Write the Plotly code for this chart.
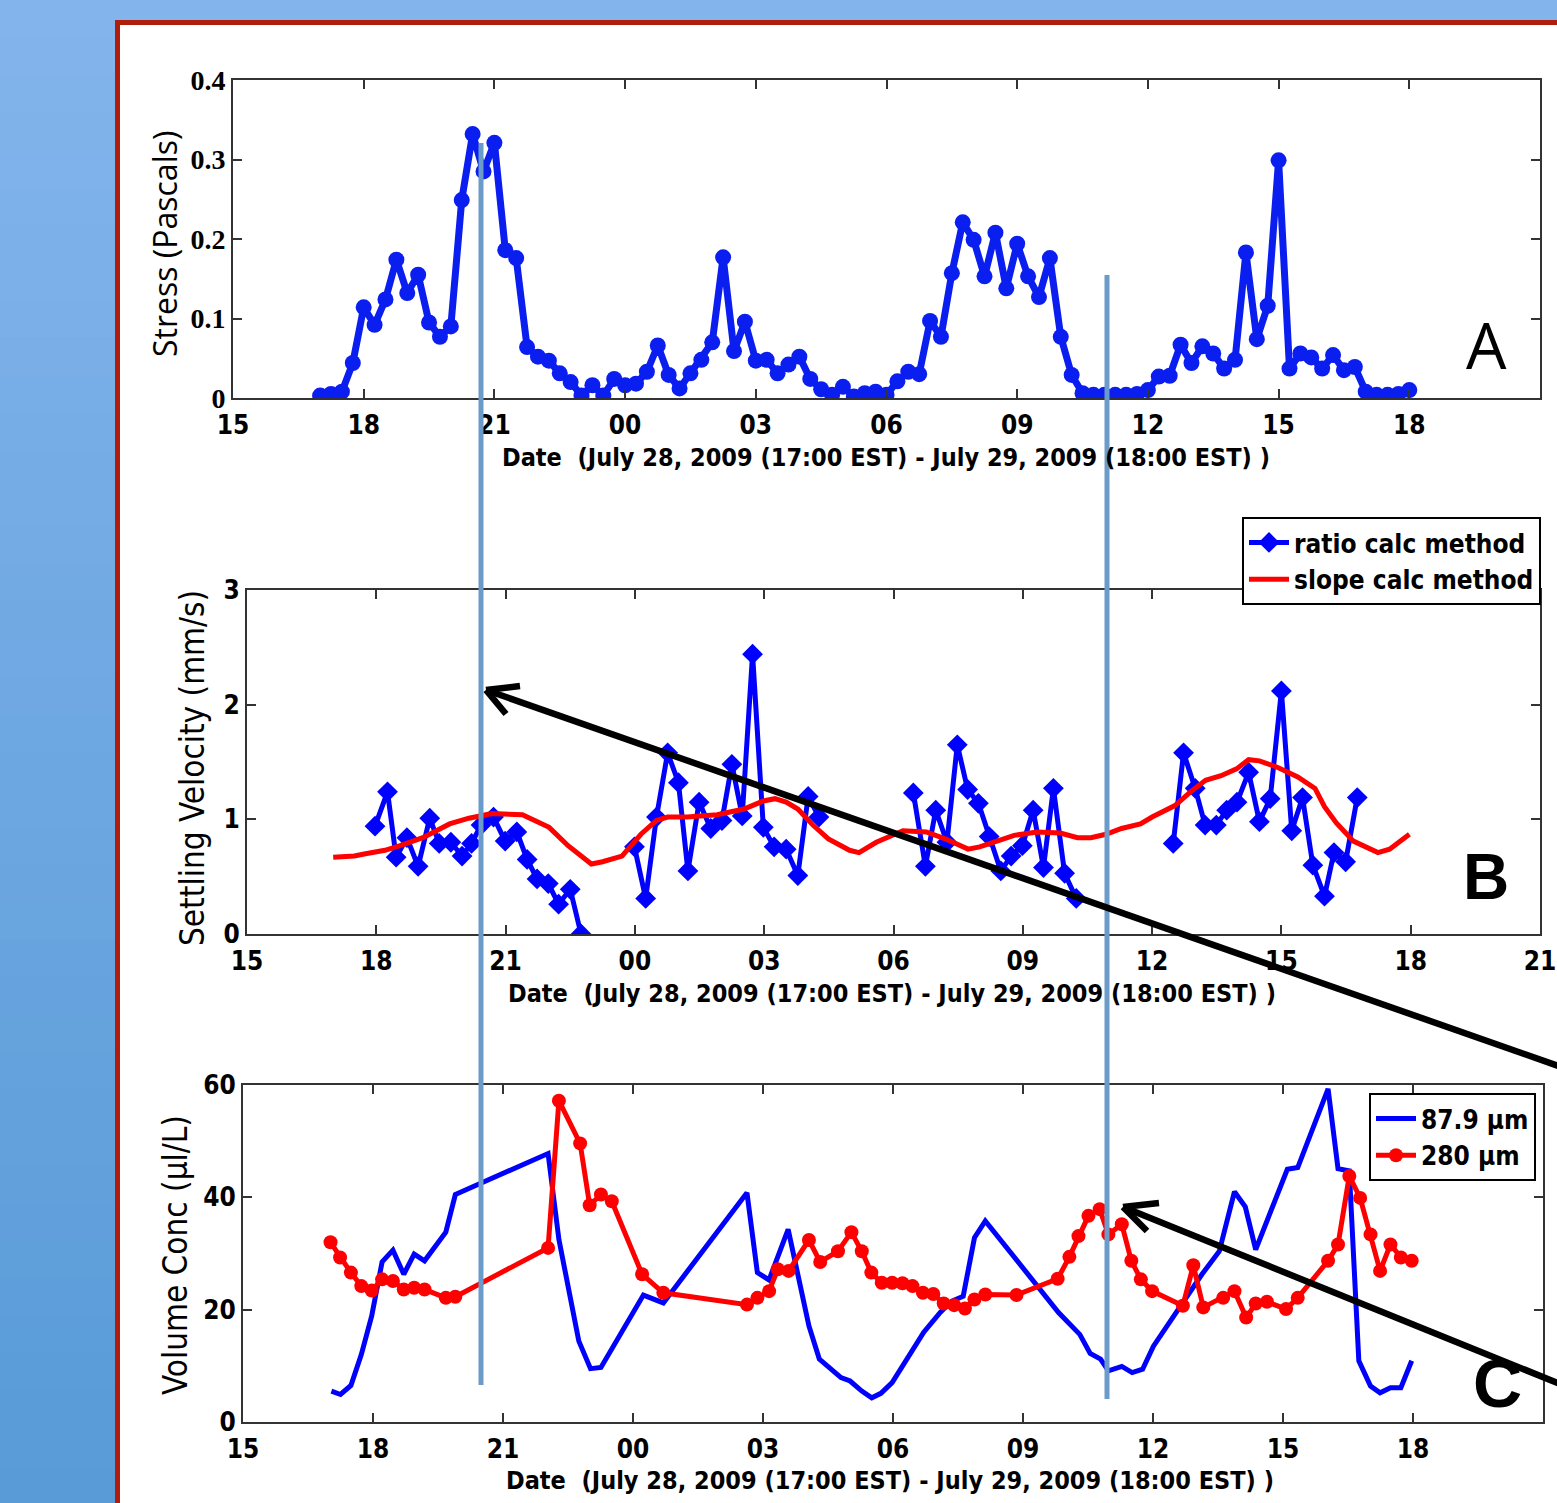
import plotly.graph_objects as go

W, H = 1557, 1503

# ---------------- Panel A: bed stress ----------------
stress_t = [17.00, 17.25, 17.50, 17.75, 18.00, 18.25, 18.50, 18.75, 19.00, 19.25, 19.50, 19.75, 20.00, 20.25,
            20.50, 20.75, 21.00, 21.25, 21.50, 21.75, 22.00, 22.25, 22.50, 22.75, 23.00, 23.25, 23.50, 23.75,
            24.00, 24.25, 24.50, 24.75, 25.00, 25.25, 25.50, 25.75, 26.00, 26.25, 26.50, 26.75, 27.00, 27.25,
            27.50, 27.75, 28.00, 28.25, 28.50, 28.75, 29.00, 29.25, 29.50, 29.75, 30.00, 30.25, 30.50, 30.75,
            31.00, 31.25, 31.50, 31.75, 32.00, 32.25, 32.50, 32.75, 33.00, 33.25, 33.50, 33.75, 34.00, 34.25,
            34.50, 34.75, 35.00, 35.25, 35.50, 35.75, 36.00, 36.25, 36.50, 36.75, 37.00, 37.25, 37.50, 37.75,
            38.00, 38.25, 38.50, 38.75, 39.00, 39.25, 39.50, 39.75, 40.00, 40.25, 40.50, 40.75, 41.00, 41.25,
            41.50, 41.75, 42.00]
stress_v = [0.003, 0.005, 0.008, 0.044, 0.114, 0.092, 0.124, 0.174, 0.132, 0.155, 0.095, 0.077, 0.090, 0.249,
            0.332, 0.285, 0.321, 0.186, 0.176, 0.064, 0.052, 0.047, 0.031, 0.020, 0.003, 0.016, 0.003, 0.024,
            0.016, 0.018, 0.033, 0.066, 0.029, 0.012, 0.031, 0.048, 0.070, 0.177, 0.059, 0.096, 0.047, 0.048,
            0.031, 0.042, 0.052, 0.024, 0.011, 0.004, 0.014, 0.002, 0.006, 0.008, 0.004, 0.021, 0.033, 0.030,
            0.097, 0.077, 0.157, 0.221, 0.199, 0.153, 0.208, 0.138, 0.194, 0.153, 0.127, 0.176, 0.077, 0.029,
            0.006, 0.004, 0.004, 0.004, 0.004, 0.005, 0.010, 0.027, 0.028, 0.067, 0.044, 0.065, 0.056, 0.037,
            0.048, 0.183, 0.074, 0.116, 0.299, 0.037, 0.056, 0.051, 0.037, 0.054, 0.035, 0.039, 0.008, 0.004,
            0.004, 0.005, 0.010]

# ---------------- Panel B: settling velocity ----------------
ratio_t = [17.97, 18.26, 18.46, 18.71, 18.97, 19.24, 19.46, 19.73, 19.99, 20.21, 20.43, 20.72, 20.99, 21.26,
           21.50, 21.73, 21.99, 22.23, 22.50, 22.75, None,
           23.99, 24.25, 24.50, 24.76, 25.01, 25.23, 25.49, 25.76, 26.02, 26.25, 26.49, 26.73, 26.98, 27.23,
           27.51, 27.78, 28.02, 28.27, None,
           30.46, 30.74, 30.98, 31.24, 31.48, 31.72, 31.97, 32.22, 32.49, 32.73, 32.99, 33.24, 33.48, 33.71,
           33.97, 34.24, None,
           36.49, 36.73, 37.00, 37.23, 37.49, 37.73, 37.97, 38.24, 38.49, 38.74, 39.00, 39.24, 39.49, 39.73,
           40.00, 40.22, 40.49, 40.76]
ratio_v = [0.94, 1.24, 0.67, 0.84, 0.59, 1.01, 0.79, 0.80, 0.68, 0.79, 0.95, 1.02, 0.81, 0.89,
           0.65, 0.48, 0.44, 0.26, 0.39, 0.00, None,
           0.76, 0.31, 1.02, 1.58, 1.32, 0.55, 1.15, 0.92, 0.99, 1.48, 1.03, 2.44, 0.93, 0.76,
           0.74, 0.51, 1.20, 1.02, None,
           1.23, 0.59, 1.08, 0.80, 1.65, 1.26, 1.14, 0.85, 0.55, 0.68, 0.77, 1.08, 0.58, 1.27,
           0.53, 0.31, None,
           0.79, 1.58, 1.27, 0.95, 0.95, 1.08, 1.15, 1.41, 0.98, 1.18, 2.12, 0.90, 1.19, 0.60,
           0.33, 0.71, 0.63, 1.19]

slope_t = [17.00, 17.49, 17.75, 18.20, 18.55, 19.08, 19.70, 20.15, 20.68, 21.39, 22.01, 22.45, 22.99, 23.25,
           23.70, 24.14, 24.50, 24.76, 25.21, 25.91, 26.53, 26.98, 27.25, 27.51, 27.78, 28.13, 28.49, 28.74,
           28.98, 29.20, 29.60, 30.22, 30.76, 31.20, 31.73, 32.00, 32.36, 32.80, 33.33, 33.87, 34.27, 34.58,
           34.93, 35.29, 35.73, 36.00, 36.53, 36.89, 37.24, 37.60, 37.96, 38.24, 38.49, 38.93, 39.38, 39.78,
           40.00, 40.27, 40.67, 40.98, 41.24, 41.51, 41.73, 41.97]
slope_v = [0.67, 0.68, 0.70, 0.73, 0.77, 0.84, 0.96, 1.01, 1.05, 1.04, 0.93, 0.77, 0.61, 0.63,
           0.68, 0.87, 0.99, 1.02, 1.02, 1.04, 1.09, 1.16, 1.18, 1.15, 1.09, 0.95, 0.83, 0.78,
           0.73, 0.71, 0.80, 0.90, 0.89, 0.83, 0.74, 0.76, 0.81, 0.86, 0.89, 0.88, 0.84, 0.84,
           0.87, 0.92, 0.96, 1.02, 1.12, 1.24, 1.34, 1.38, 1.44, 1.52, 1.51, 1.45, 1.37, 1.27,
           1.11, 0.97, 0.81, 0.76, 0.71, 0.74, 0.80, 0.87]

# ---------------- Panel C: volume concentration ----------------
c88_t = [17.04, 17.25, 17.49, 17.73, 17.97, 18.21, 18.46, 18.71, 18.95, 19.19, 19.68, 19.90, 22.04, 22.29,
         22.75, 23.02, 23.26, 24.24, 24.70, 26.63, 26.87, 27.14, 27.58, 28.06, 28.30, 28.80, 29.01, 29.28,
         29.51, 29.72, 29.98, 30.38, 30.71, 31.09, 31.35, 31.62, 31.88, 32.13, 33.82, 34.31, 34.55, 34.79,
         34.97, 35.28, 35.52, 35.76, 36.01, 37.13, 37.53, 37.88, 38.13, 38.37, 39.10, 39.34, 40.04, 40.27,
         40.53, 40.75, 41.02, 41.24, 41.48, 41.72, 41.97]
c88_v = [5.5, 4.9, 6.5, 12.0, 18.9, 28.5, 30.6, 26.3, 29.9, 28.7, 33.8, 40.5, 47.8, 32.5,
         14.4, 9.5, 9.7, 22.6, 21.2, 40.8, 26.6, 25.3, 34.3, 17.1, 11.2, 7.9, 7.3, 5.5,
         4.3, 5.1, 7.0, 11.8, 16.0, 19.5, 21.5, 22.4, 32.8, 35.8, 19.5, 15.6, 12.2, 11.2,
         9.1, 9.9, 8.8, 9.4, 13.5, 26.3, 30.4, 41.0, 38.3, 30.7, 45.0, 45.3, 59.3, 45.1,
         44.7, 10.9, 6.4, 5.2, 6.1, 6.1, 10.9]

c280_t = [17.02, 17.24, 17.49, 17.73, 17.97, 18.21, 18.46, 18.71, 18.95, 19.19, 19.68, 19.90, 22.04, 22.29,
          22.78, 23.00, 23.26, 23.51, 24.21, 24.70, 26.63, 26.87, 27.14, 27.34, 27.59, 28.06, 28.32, 28.73,
          29.04, 29.28, 29.50, 29.74, 29.98, 30.22, 30.45, 30.69, 30.93, 31.17, 31.41, 31.66, 31.88, 32.13,
          32.85, 33.80, 34.07, 34.28, 34.51, 34.77, 34.97, 35.28, 35.50, 35.72, 35.98, 36.69, 36.93, 37.16,
          37.62, 37.88, 38.15, 38.37, 38.63, 39.07, 39.34, 40.04, 40.27, 40.53, 40.78, 41.02, 41.24, 41.48,
          41.72, 41.97]
c280_v = [32.0, 29.3, 26.6, 24.2, 23.4, 25.4, 25.1, 23.6, 23.9, 23.6, 22.1, 22.3, 31.0, 57.2,
          49.6, 38.6, 40.5, 39.3, 26.3, 23.0, 20.9, 22.1, 23.3, 27.2, 26.9, 32.4, 28.5, 30.4,
          33.8, 30.4, 26.6, 24.8, 24.8, 24.7, 24.2, 23.0, 22.8, 21.1, 20.8, 20.2, 21.8, 22.7,
          22.6, 25.5, 29.4, 33.1, 36.7, 37.9, 33.4, 35.2, 28.7, 25.4, 23.3, 20.7, 27.9, 20.4,
          22.1, 23.3, 18.6, 21.1, 21.4, 20.1, 22.1, 28.7, 31.6, 43.8, 39.9, 33.4, 26.9, 31.6,
          29.3, 28.7]

# tick labels
x_tickvals = [15, 18, 21, 24, 27, 30, 33, 36, 39, 42, 45]
x_ticktext = ["15", "18", "21", "00", "03", "06", "09", "12", "15", "18", "21"]
date_title = "Date  (July 28, 2009 (17:00 EST) - July 29, 2009 (18:00 EST) )"


def X(px):
    return px / W


def Y(py):
    return 1 - py / H


NARROW = "Liberation Sans Narrow, Arial Narrow, DejaVu Sans Condensed, sans-serif"
tickfont = dict(family=NARROW, size=26, color="black", weight="bold")

fig = go.Figure()

fig.add_trace(go.Scatter(x=stress_t, y=stress_v, mode="lines+markers", xaxis="x", yaxis="y",
                         line=dict(color="#0a1ef0", width=7),
                         marker=dict(symbol="circle", size=16, color="#0a1ef0"),
                         showlegend=False))

fig.add_trace(go.Scatter(x=ratio_t, y=ratio_v, mode="lines+markers", xaxis="x2", yaxis="y2",
                         name="ratio calc method", connectgaps=False,
                         line=dict(color="#0000ff", width=5),
                         marker=dict(symbol="diamond", size=16, color="#0000ff"),
                         legend="legend"))
fig.add_trace(go.Scatter(x=slope_t, y=slope_v, mode="lines", xaxis="x2", yaxis="y2",
                         name="slope calc method", line=dict(color="#ff0000", width=5),
                         legend="legend"))

fig.add_trace(go.Scatter(x=c88_t, y=c88_v, mode="lines", xaxis="x3", yaxis="y3",
                         name="87.9 µm", line=dict(color="#0000ff", width=5), legend="legend2"))
fig.add_trace(go.Scatter(x=c280_t, y=c280_v, mode="lines+markers", xaxis="x3", yaxis="y3",
                         name="280 µm", line=dict(color="#ff0000", width=5),
                         marker=dict(symbol="circle", size=14, color="#ff0000"), legend="legend2"))


def xax(domain, anchor, nticks):
    return dict(domain=domain, anchor=anchor, range=[15, 45], tickvals=x_tickvals[:nticks],
                ticktext=x_ticktext[:nticks], ticks="inside", ticklen=9, tickwidth=1.5, tickcolor="#333",
                showline=True, linecolor="#333", linewidth=2, mirror="ticks", showgrid=False,
                zeroline=False, tickfont=tickfont, ticklabelstandoff=3, automargin=False)


def yax(domain, anchor, rng, vals, text, font):
    return dict(domain=domain, anchor=anchor, range=rng, tickvals=vals, ticktext=text,
                ticks="inside", ticklen=9, tickwidth=1.5, tickcolor="#333", showline=True,
                linecolor="#333", linewidth=2, mirror="ticks", showgrid=False, zeroline=False,
                tickfont=font, ticklabelstandoff=0, automargin=False)


fig.update_layout(
    xaxis=xax([X(233), X(1540)], "y", 10),
    yaxis=yax([Y(398), Y(80)], "x", [0, 0.4], [0, 0.1, 0.2, 0.3, 0.4], ["0", "0.1", "0.2", "0.3", "0.4"],
              dict(family="Liberation Serif, serif", size=28, color="black", weight="bold")),
    xaxis2=xax([X(247), X(1540)], "y2", 11),
    yaxis2=yax([Y(934), Y(590)], "x2", [0, 3], [0, 1, 2, 3], ["0", "1", "2", "3"], tickfont),
    xaxis3=xax([X(243), X(1543)], "y3", 10),
    yaxis3=yax([Y(1422), Y(1085)], "x3", [0, 60], [0, 20, 40, 60], ["0", "20", "40", "60"], tickfont),
)

legfont = dict(family=NARROW, size=26, color="black", weight="bold")
fig.update_layout(
    legend=dict(x=X(1541), y=Y(517), xanchor="right", yanchor="top", bgcolor="white",
                bordercolor="black", borderwidth=2, font=legfont, itemwidth=40, tracegroupgap=0),
    legend2=dict(x=X(1536), y=Y(1093), xanchor="right", yanchor="top", bgcolor="white",
                 bordercolor="black", borderwidth=2, font=legfont, itemwidth=40, tracegroupgap=0),
)

# ---------------- annotations (titles, panel letters) ----------------
ann = []
for cx, cy in [(886, 457), (892, 993), (890, 1480)]:
    ann.append(dict(x=X(cx), y=Y(cy), xref="paper", yref="paper", text=date_title, showarrow=False,
                    xanchor="center", yanchor="middle",
                    font=dict(family=NARROW, size=25, color="black", weight="bold")))
ann.append(dict(x=X(165), y=Y(244), xref="paper", yref="paper", text="Stress (Pascals)", textangle=-90,
                showarrow=False, xanchor="center", yanchor="middle",
                font=dict(family="Open Sans, Noto Sans, sans-serif", size=32, color="black")))
ann.append(dict(x=X(193), y=Y(768), xref="paper", yref="paper", text="Settling Velocity (mm/s)",
                textangle=-90, showarrow=False, xanchor="center", yanchor="middle",
                font=dict(family=NARROW, size=33, color="black")))
ann.append(dict(x=X(175), y=Y(1255), xref="paper", yref="paper", text="Volume Conc (µl/L)",
                textangle=-90, showarrow=False, xanchor="center", yanchor="middle",
                font=dict(family=NARROW, size=33, color="black")))
ann.append(dict(x=X(1486), y=Y(345), xref="paper", yref="paper", text="A", showarrow=False,
                xanchor="center", yanchor="middle",
                font=dict(family="Open Sans, Noto Sans, sans-serif", size=64, color="black")))
ann.append(dict(x=X(1486), y=Y(877), xref="paper", yref="paper", text="B", showarrow=False,
                xanchor="center", yanchor="middle",
                font=dict(family="Liberation Sans, Arial, sans-serif", size=64, color="black",
                          weight="bold")))
ann.append(dict(x=X(1497), y=Y(1383), xref="paper", yref="paper", text="C", showarrow=False,
                xanchor="center", yanchor="middle",
                font=dict(family="Liberation Sans, Arial, sans-serif", size=68, color="black",
                          weight="bold")))
fig.update_layout(annotations=ann)

# ---------------- background, frame, overlays ----------------
shapes = []
top_col = (131, 180, 236)
bot_col = (88, 155, 215)
nb = 40
for i in range(nb):
    f = i / (nb - 1)
    c = tuple(int(round(top_col[k] + (bot_col[k] - top_col[k]) * f)) for k in range(3))
    y0 = i * H / nb
    y1 = (i + 1) * H / nb + 1
    shapes.append(dict(type="rect", xref="paper", yref="paper", x0=X(0), x1=X(118),
                       y0=Y(y1), y1=Y(y0), fillcolor="rgb(%d,%d,%d)" % c, line=dict(width=0),
                       layer="below"))
shapes.append(dict(type="rect", xref="paper", yref="paper", x0=X(0), x1=X(W), y0=Y(21), y1=Y(0),
                   fillcolor="rgb(%d,%d,%d)" % top_col, line=dict(width=0), layer="below"))
shapes.append(dict(type="line", xref="paper", yref="paper", x0=X(117.5), x1=X(117.5), y0=Y(20), y1=Y(H),
                   line=dict(color="#b01d0d", width=5), layer="below"))
shapes.append(dict(type="line", xref="paper", yref="paper", x0=X(115), x1=X(W), y0=Y(22.5), y1=Y(22.5),
                   line=dict(color="#b01d0d", width=5), layer="below"))

# vertical marker lines
vcol = "#6a9bc9"
shapes.append(dict(type="line", xref="paper", yref="paper", x0=X(481), x1=X(481), y0=Y(143), y1=Y(1385),
                   line=dict(color=vcol, width=5), layer="above"))
shapes.append(dict(type="line", xref="paper", yref="paper", x0=X(1107), x1=X(1107), y0=Y(275), y1=Y(1399),
                   line=dict(color=vcol, width=5), layer="above"))


# arrows
def arrow(tail, tip, w1, w2):
    out = []
    for a, b in [(tail, tip), (tip, w1), (tip, w2)]:
        out.append(dict(type="line", xref="paper", yref="paper", x0=X(a[0]), y0=Y(a[1]),
                        x1=X(b[0]), y1=Y(b[1]), line=dict(color="black", width=6.5), layer="above"))
    return out


shapes += arrow((1570, 1070), (486, 690), (520, 686), (506, 714))
shapes += arrow((1570, 1388), (1123, 1207), (1159, 1203), (1147, 1231))

fig.update_layout(shapes=shapes, width=W, height=H, margin=dict(l=0, r=0, t=0, b=0, pad=0),
                  paper_bgcolor="white", plot_bgcolor="rgba(0,0,0,0)")

fig.write_html("out.html")
